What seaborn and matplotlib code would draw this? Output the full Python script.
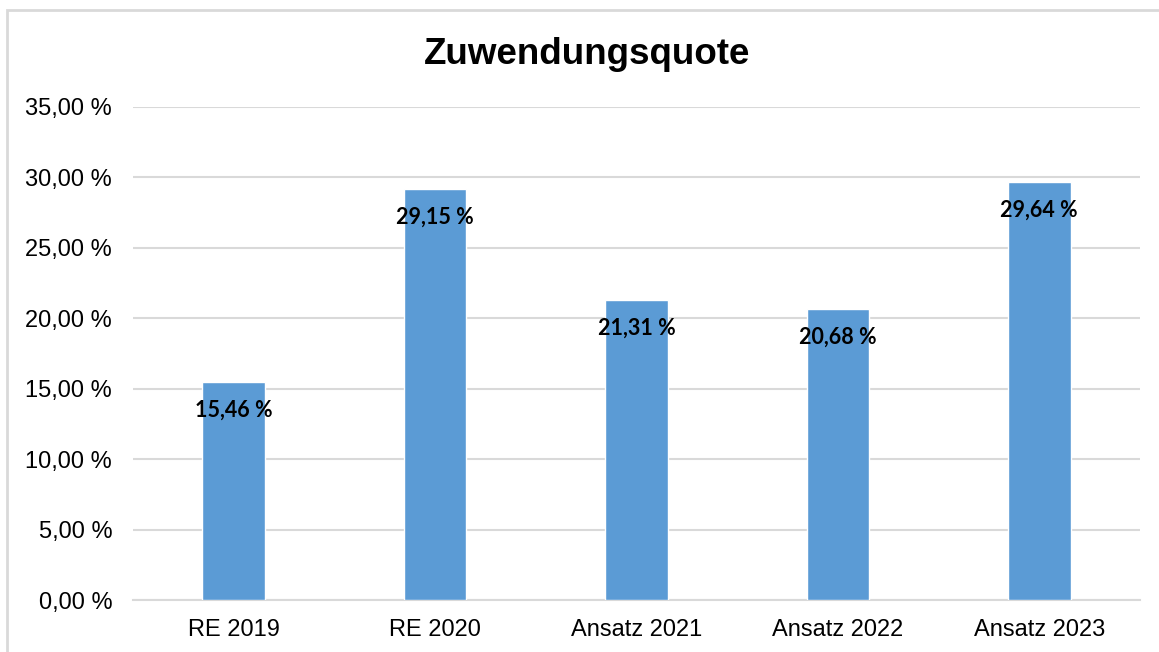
import matplotlib
matplotlib.use("Agg")
import matplotlib.pyplot as plt
import seaborn as sns
import pandas as pd
from matplotlib.patches import Rectangle
from matplotlib.ticker import FuncFormatter, MultipleLocator

categories = ["RE 2019", "RE 2020", "Ansatz 2021", "Ansatz 2022", "Ansatz 2023"]
values = [15.46, 29.15, 21.31, 20.68, 29.64]
title = "Zuwendungsquote"

sns.set_theme(style="white")
plt.rcParams["font.family"] = ["Liberation Sans", "DejaVu Sans"]
plt.rcParams["text.color"] = "black"

df = pd.DataFrame({"cat": categories, "val": values})

fig = plt.figure(figsize=(11.59, 6.52), dpi=100)
ax = fig.add_axes([133/1159, 1 - 600/652, (1140 - 133)/1159, (600 - 107)/652])

sns.barplot(data=df, x="cat", y="val", color="#5B9BD5", saturation=1,
            width=0.31, ax=ax, zorder=3)

ax.set_ylim(0, 35)
ax.set_xlim(-0.5, len(categories) - 0.5)
ax.yaxis.set_major_locator(MultipleLocator(5))
ax.yaxis.set_major_formatter(FuncFormatter(lambda v, p: f"{v:.2f}".replace(".", ",") + " %"))
ax.grid(axis="y", color="#d9d9d9", linewidth=1.5, zorder=0)
ax.set_axisbelow(True)
for s in ["top", "right", "left"]:
    ax.spines[s].set_visible(False)
ax.spines["bottom"].set_color("#d9d9d9")
ax.spines["bottom"].set_linewidth(1.5)
ax.set_xlabel("")
ax.set_ylabel("")
ax.tick_params(axis="both", length=0, labelsize=17, colors="black")
ax.tick_params(axis="x", pad=14)
ax.tick_params(axis="y", pad=15)

for i, v in enumerate(values):
    ax.annotate(f"{v:.2f}".replace(".", ",") + " %", xy=(i, v), xytext=(0, -28),
                textcoords="offset pixels", ha="center", va="center",
                fontsize=15.5, fontweight="bold", family=["Lato", "DejaVu Sans"],
                color="black", zorder=5)

fig.text(587/1159, 1 - 54/652, title, ha="center", va="center",
         fontsize=26.5, fontweight="bold", color="black")

fig.patches.append(Rectangle((7/1159, -0.05), 1.2, 1 - 10/652 + 0.05,
                             transform=fig.transFigure, fill=False,
                             edgecolor="#d9d9d9", linewidth=2))

fig.savefig("out.png", dpi=100, facecolor="white")
